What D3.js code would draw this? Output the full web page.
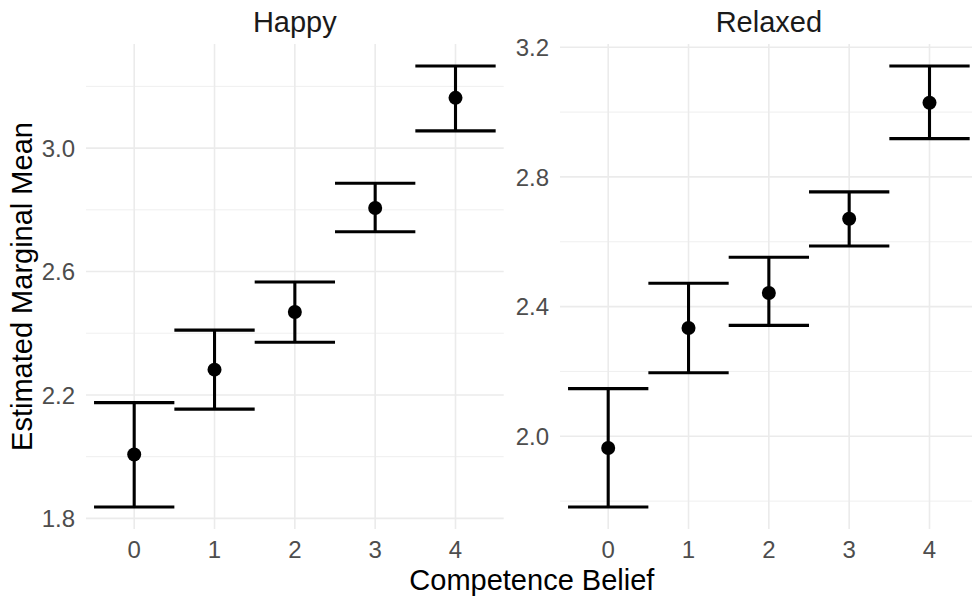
<!DOCTYPE html>
<html>
<head>
<meta charset="utf-8">
<script src="https://cdn.jsdelivr.net/npm/d3@7"></script>
<style>
  body { margin: 0; background: #fff; }
  svg { display: block; font-family: "Liberation Sans", Arial, sans-serif; }
</style>
</head>
<body>
<svg width="972" height="598"></svg>
<script>
// competence belief levels
const categories = ["0", "1", "2", "3", "4"]

// Happy facet
const happyMean  = [2.007, 2.282, 2.469, 2.806, 3.163]
const happyLower = [1.837, 2.154, 2.371, 2.729, 3.056]
const happyUpper = [2.175, 2.410, 2.566, 2.886, 3.266]
const happyMajor = [1.8, 2.2, 2.6, 3.0]
const happyMinor = [2.0, 2.4, 2.8, 3.2]

// Relaxed facet
const relaxedMean  = [1.964, 2.334, 2.442, 2.671, 3.029]
const relaxedLower = [1.782, 2.196, 2.342, 2.587, 2.918]
const relaxedUpper = [2.147, 2.472, 2.552, 2.754, 3.142]
const relaxedMajor = [2.0, 2.4, 2.8, 3.2]
const relaxedMinor = [1.8, 2.2, 2.6, 3.0]

const facets = [
  {name: "Happy", mean: happyMean, lower: happyLower, upper: happyUpper,
   major: happyMajor, minor: happyMinor, left: 86},
  {name: "Relaxed", mean: relaxedMean, lower: relaxedLower, upper: relaxedUpper,
   major: relaxedMajor, minor: relaxedMinor, left: 560}
]

const panelW = 417.7
const panelTop = 44, panelBottom = 529
const gridCol = "#ebebeb"
const lineW = 3.1

const svg = d3.select("svg")

facets.forEach(f => {
  const x = d3.scaleBand()
      .domain(categories)
      .range([f.left, f.left + panelW])
      .paddingInner(0)
      .paddingOuter(0.1)

  const lo = d3.min(f.lower), hi = d3.max(f.upper)
  const pad = (hi - lo) * 0.05
  const y = d3.scaleLinear()
      .domain([lo - pad, hi + pad])
      .range([panelBottom, panelTop])

  const g = svg.append("g")

  // minor grid
  g.selectAll(".minor")
    .data(f.minor)
    .enter().append("line")
      .attr("x1", f.left).attr("x2", f.left + panelW)
      .attr("y1", d => y(d)).attr("y2", d => y(d))
      .attr("stroke", gridCol)
      .attr("stroke-width", 0.8)

  // major grid
  g.selectAll(".major")
    .data(f.major)
    .enter().append("line")
      .attr("x1", f.left).attr("x2", f.left + panelW)
      .attr("y1", d => y(d)).attr("y2", d => y(d))
      .attr("stroke", gridCol)
      .attr("stroke-width", 1.6)

  g.selectAll(".vgrid")
    .data(categories)
    .enter().append("line")
      .attr("x1", d => x(d) + x.bandwidth() / 2)
      .attr("x2", d => x(d) + x.bandwidth() / 2)
      .attr("y1", panelTop).attr("y2", panelBottom)
      .attr("stroke", gridCol)
      .attr("stroke-width", 1.6)

  // y tick labels
  g.selectAll(".ytick")
    .data(f.major)
    .enter().append("text")
      .attr("x", f.left - 11)
      .attr("y", d => y(d))
      .attr("dy", "0.36em")
      .attr("text-anchor", "end")
      .attr("font-size", 24)
      .attr("fill", "#4d4d4d")
      .text(d => d.toFixed(1))

  // x tick labels
  g.selectAll(".xtick")
    .data(categories)
    .enter().append("text")
      .attr("x", d => x(d) + x.bandwidth() / 2)
      .attr("y", 558)
      .attr("text-anchor", "middle")
      .attr("font-size", 24)
      .attr("fill", "#4d4d4d")
      .text(d => d)

  // strip title
  g.append("text")
    .attr("x", f.left + panelW / 2)
    .attr("y", 32)
    .attr("text-anchor", "middle")
    .attr("font-size", 29)
    .attr("fill", "#1a1a1a")
    .text(f.name)

  const rows = categories.map((c, i) => ({c: c, m: f.mean[i], lo: f.lower[i], hi: f.upper[i]}))

  // error bars
  const eb = g.selectAll(".eb")
    .data(rows)
    .enter().append("g")

  eb.append("line")
    .attr("x1", d => x(d.c) + x.bandwidth() / 2)
    .attr("x2", d => x(d.c) + x.bandwidth() / 2)
    .attr("y1", d => y(d.lo)).attr("y2", d => y(d.hi))
    .attr("stroke", "black").attr("stroke-width", lineW)

  eb.append("line")
    .attr("x1", d => x(d.c)).attr("x2", d => x(d.c) + x.bandwidth())
    .attr("y1", d => y(d.hi)).attr("y2", d => y(d.hi))
    .attr("stroke", "black").attr("stroke-width", lineW)

  eb.append("line")
    .attr("x1", d => x(d.c)).attr("x2", d => x(d.c) + x.bandwidth())
    .attr("y1", d => y(d.lo)).attr("y2", d => y(d.lo))
    .attr("stroke", "black").attr("stroke-width", lineW)

  eb.append("circle")
    .attr("cx", d => x(d.c) + x.bandwidth() / 2)
    .attr("cy", d => y(d.m))
    .attr("r", 7)
    .attr("fill", "black")
})

// axis titles
svg.append("text")
  .attr("x", 86 + (560 + panelW - 86) / 2)
  .attr("y", 590)
  .attr("text-anchor", "middle")
  .attr("font-size", 29)
  .attr("fill", "black")
  .text("Competence Belief")

svg.append("text")
  .attr("transform", "translate(32," + ((panelTop + panelBottom) / 2) + ") rotate(-90)")
  .attr("text-anchor", "middle")
  .attr("font-size", 29)
  .attr("fill", "black")
  .text("Estimated Marginal Mean")
</script>
</body>
</html>
